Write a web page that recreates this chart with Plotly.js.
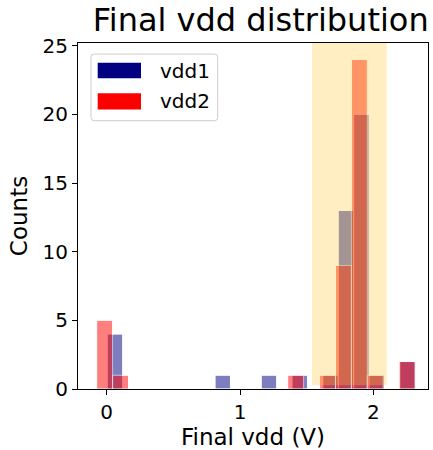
<!DOCTYPE html>
<html>
<head>
<meta charset="utf-8">
<script src="https://cdn.plot.ly/plotly-3.0.1.min.js"></script>
<style>html,body{margin:0;padding:0;background:#fff;}#chart{width:433px;height:450px;}</style>
</head>
<body>
<div id="chart"></div>
<script>
// ---- data ----
const seriesNames = ["vdd1", "vdd2"];
const vdd1BinStart = 0.0045;
const vdd1BinWidth = 0.1155;
const vdd1Counts = [4,0,0,0,0,0,0,1,0,0,1,0,1,0,1,13,20,1,0,2];
const vdd2BinStart = -0.075;
const vdd2BinWidth = 0.1194;
const vdd2Counts = [5,1,0,0,0,0,0,0,0,0,0,0,1,0,1,9,24,1,0,2];
const spanRange = [1.54, 2.1];
const xTicks = [0, 1, 2];
const yTicks = [0, 5, 10, 15, 20, 25];

function centers(start, w, n) { const a = []; for (let i = 0; i < n; i++) a.push(start + (i + 0.5) * w); return a; }

const font = "DejaVu Sans, sans-serif";
const traces = [
  {type: "bar", name: seriesNames[0], x: centers(vdd1BinStart, vdd1BinWidth, vdd1Counts.length), y: vdd1Counts,
   width: vdd1BinWidth, marker: {color: "navy", opacity: 0.5, line: {color: "white", width: 1}}, showlegend: false, hoverinfo: "x+y"},
  {type: "bar", name: seriesNames[1], x: centers(vdd2BinStart, vdd2BinWidth, vdd2Counts.length), y: vdd2Counts,
   width: vdd2BinWidth, marker: {color: "red", opacity: 0.5, line: {color: "white", width: 1}}, showlegend: false, hoverinfo: "x+y"}
];

function roundRect(x0, y0, x1, y1, rx, ry) {
  return `M ${x0+rx} ${y0} L ${x1-rx} ${y0} Q ${x1} ${y0} ${x1} ${y0+ry} L ${x1} ${y1-ry} Q ${x1} ${y1} ${x1-rx} ${y1} L ${x0+rx} ${y1} Q ${x0} ${y1} ${x0} ${y1-ry} L ${x0} ${y0+ry} Q ${x0} ${y0} ${x0+rx} ${y0} Z`;
}

const layout = {
  width: 433, height: 450,
  margin: {l: 78, r: 5, t: 43, b: 61, pad: 0},
  paper_bgcolor: "white", plot_bgcolor: "white",
  barmode: "overlay", bargap: 0,
  showlegend: false,
  font: {family: font, color: "black"},
  title: {text: "Final vdd distribution", font: {family: font, size: 32, color: "black"},
          x: 0.602, xref: "container", xanchor: "center", y: 0.957, yref: "container", yanchor: "middle"},
  xaxis: {range: [-0.215, 2.41], tickvals: xTicks, ticktext: xTicks.map(String), ticks: "outside", ticklen: 5, tickwidth: 1, tickcolor: "black",
          showline: true, linecolor: "black", linewidth: 1, mirror: true, showgrid: false, zeroline: false,
          tickfont: {family: font, size: 20, color: "black"},
          title: {text: "Final vdd (V)", font: {family: font, size: 23, color: "black"}, standoff: 8}},
  yaxis: {range: [0, 25.2], tickvals: yTicks, ticktext: yTicks.map(String), ticks: "outside", ticklen: 5, tickwidth: 1, tickcolor: "black",
          showline: true, linecolor: "black", linewidth: 1, mirror: true, showgrid: false, zeroline: false,
          tickfont: {family: font, size: 20, color: "black"},
          title: {text: "Counts", font: {family: font, size: 23, color: "black"}, standoff: 8}},
  shapes: [
    {type: "rect", layer: "above", xref: "x", yref: "paper", x0: spanRange[0], x1: spanRange[1], y0: 0.011, y1: 1,
     fillcolor: "rgba(255,200,50,0.3)", line: {width: 0}},
    {type: "path", layer: "above", xref: "paper", yref: "paper", path: roundRect(0.0371, 0.7754, 0.399, 0.968, 0.009, 0.009),
     fillcolor: "rgba(255,255,255,0.8)", line: {color: "#cccccc", width: 1}},
    {type: "rect", layer: "above", xref: "paper", yref: "paper", x0: 0.0563, x1: 0.18, y0: 0.898, y1: 0.943,
     fillcolor: "navy", line: {width: 0}},
    {type: "rect", layer: "above", xref: "paper", yref: "paper", x0: 0.0563, x1: 0.18, y0: 0.808, y1: 0.8546,
     fillcolor: "red", line: {width: 0}}
  ],
  annotations: [
    {xref: "paper", yref: "paper", x: 0.2286, y: 0.9205, xanchor: "left", yanchor: "middle", showarrow: false,
     text: seriesNames[0], font: {family: font, size: 20, color: "black"}},
    {xref: "paper", yref: "paper", x: 0.2286, y: 0.831, xanchor: "left", yanchor: "middle", showarrow: false,
     text: seriesNames[1], font: {family: font, size: 20, color: "black"}}
  ]
};

Plotly.newPlot("chart", traces, layout, {displayModeBar: false, staticPlot: true});
</script>
</body>
</html>
